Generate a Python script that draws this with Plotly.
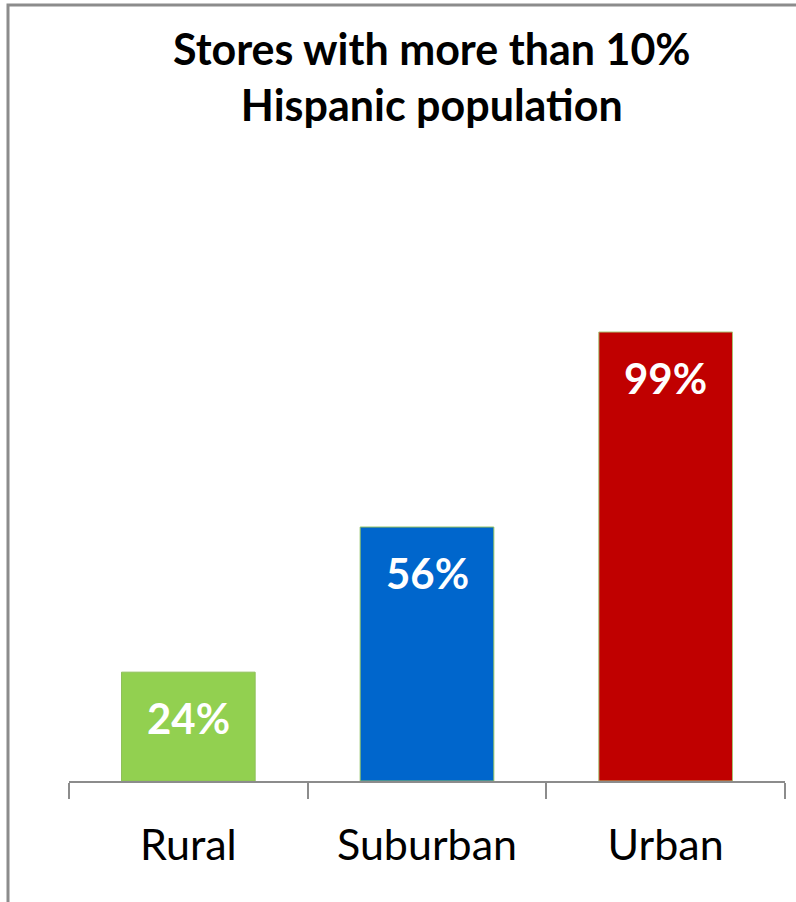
import plotly.graph_objects as go

categories = ["Rural", "Suburban", "Urban"]
values = [24, 56, 99]
labels = ["24%", "56%", "99%"]
colors = ["#92d050", "#0066cc", "#c00000"]
edge_colors = ["#8fbf5a", "#8fc060", "#a8c070"]
title_text = "Stores with more than 10%<br>Hispanic population"

W, H = 796, 902
ml, mr, mt, mb = 69, 11, 150, 121
pw, ph = W - ml - mr, H - mt - mb

fig = go.Figure()
fig.add_trace(go.Bar(
    x=categories, y=values,
    marker=dict(color=colors, line=dict(color=edge_colors, width=1)),
    width=0.56, showlegend=False, hoverinfo="skip",
))

for c, v, t in zip(categories, values, labels):
    fig.add_annotation(x=c, y=v, text=t, showarrow=False, yanchor="top", yshift=-19,
                       font=dict(family="Lato", size=42, color="white", weight="bold"))

fig.add_annotation(xref="paper", yref="paper", x=(432 - ml) / pw, y=(H - mb - 21) / ph,
                   text="<b>" + title_text + "</b>", showarrow=False, xanchor="center", yanchor="top",
                   font=dict(family="Lato", size=43, color="black"))

# outer frame (only left and top edges fall inside the view)
fig.add_shape(type="rect", xref="paper", yref="paper",
              x0=(8 - ml) / pw, x1=(830 - ml) / pw,
              y0=(H - mb - 930) / ph, y1=(H - mb - 5) / ph,
              line=dict(color="#8c8c8c", width=3), layer="below")

fig.update_layout(
    width=W, height=H, margin=dict(l=ml, r=mr, t=mt, b=mb),
    paper_bgcolor="white", plot_bgcolor="white",
    bargap=0.44,
    xaxis=dict(type="category", tickson="boundaries", ticks="outside", ticklen=16,
               tickcolor="#8c8c8c", tickwidth=2, showline=True, linecolor="#8c8c8c", linewidth=2,
               showgrid=False, ticklabelstandoff=25,
               tickfont=dict(family="Lato", size=43, color="black")),
    yaxis=dict(range=[0, ph / 4.535], visible=False, showgrid=False, zeroline=False),
)
fig.write_html("out.html", config={"displayModeBar": False},
               post_script="document.body.style.margin='0';")
